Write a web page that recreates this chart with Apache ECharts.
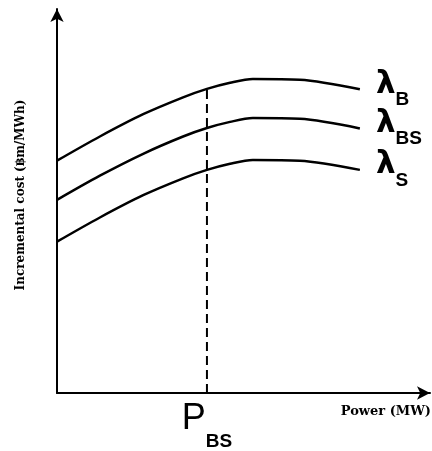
<!DOCTYPE html>
<html>
<head>
<meta charset="utf-8">
<script src="https://cdn.jsdelivr.net/npm/echarts@6/dist/echarts.min.js"></script>
<style>
  html, body { margin: 0; padding: 0; background: #fff; }
  #chart { width: 432px; height: 451px; }
</style>
</head>
<body>
<div id="chart"></div>
<script>
// power axis positions (arbitrary units)
const powerX = [0, 11.5, 23.1, 33.8, 40.2, 46.4, 52.5, 65.1, 81.2]
// incremental cost curves
const lambdaB = [60.5, 66.8, 72.6, 77.0, 79.2, 80.8, 81.8, 81.6, 79.1]
const lambdaBS = [50.3, 56.6, 62.3, 66.8, 69.0, 70.6, 71.6, 71.4, 68.9]
const lambdaS = [39.4, 45.7, 51.5, 55.9, 58.1, 59.7, 60.7, 60.5, 58.1]
const curveNames = ['B', 'BS', 'S']
// P_BS marker
const pbsX = 40.2
const pbsTop = 79.2

const chart = echarts.init(document.getElementById('chart'))

const curves = [lambdaB, lambdaBS, lambdaS]
const series = curves.map((vals, i) => ({
    name: 'λ' + curveNames[i],
    type: 'line',
    smooth: 0.3,
    symbol: 'none',
    data: powerX.map((x, j) => [x, vals[j]]),
    lineStyle: { color: '#000', width: 2.5 },
    endLabel: {
        show: true,
        distance: 16,
        formatter: '{l|λ}{s|' + curveNames[i] + '}',
        rich: {
            l: {
                fontFamily: 'DejaVu Sans',
                fontSize: 31,
                fontWeight: 'bold',
                color: '#000',
                verticalAlign: 'bottom',
                padding: [0, 0, 9, 0]
            },
            s: {
                fontFamily: 'Liberation Sans',
                fontSize: 19,
                fontWeight: 'bold',
                color: '#000',
                verticalAlign: 'bottom'
            }
        }
    }
}))

series.push({
    name: 'pbs',
    type: 'line',
    symbol: 'none',
    data: [[pbsX, 0], [pbsX, pbsTop]],
    lineStyle: { color: '#000', width: 2, type: [9, 5] }
})

const option = {
    animation: false,
    backgroundColor: '#fff',
    grid: { left: 57, right: 2, top: 9, bottom: 58 },
    xAxis: {
        type: 'value',
        min: 0,
        max: 100,
        axisLine: {
            lineStyle: { color: '#000', width: 2 },
            symbol: ['none', 'arrow'],
            symbolSize: [10, 13]
        },
        axisTick: { show: false },
        splitLine: { show: false },
        axisLabel: {
            customValues: [pbsX],
            margin: 8,
            formatter: () => '{p|P}{s|BS}',
            rich: {
                p: {
                    fontFamily: 'Liberation Sans',
                    fontSize: 36,
                    color: '#000',
                    verticalAlign: 'bottom',
                    padding: [0, 0, 14, 0]
                },
                s: {
                    fontFamily: 'Liberation Sans',
                    fontSize: 19,
                    fontWeight: 'bold',
                    color: '#000',
                    verticalAlign: 'bottom'
                }
            }
        }
    },
    yAxis: {
        type: 'value',
        min: 0,
        max: 100,
        name: 'Incremental cost (฿m/MWh)',
        nameLocation: 'middle',
        nameRotate: 90,
        nameGap: 30,
        nameTextStyle: {
            fontFamily: 'DejaVu Serif',
            fontSize: 12,
            fontWeight: 'bold',
            color: '#000',
            padding: [0, 0, 0, 12]
        },
        axisLine: {
            lineStyle: { color: '#000', width: 2 },
            symbol: ['none', 'arrow'],
            symbolSize: [10, 13]
        },
        axisTick: { show: false },
        splitLine: { show: false },
        axisLabel: { show: false }
    },
    graphic: [{
        type: 'text',
        right: 1,
        top: 405,
        style: {
            text: 'Power (MW)',
            fontFamily: 'DejaVu Serif',
            fontSize: 13,
            fontWeight: 'bold',
            fill: '#000'
        }
    }],
    series: series
}

chart.setOption(option)
</script>
</body>
</html>
